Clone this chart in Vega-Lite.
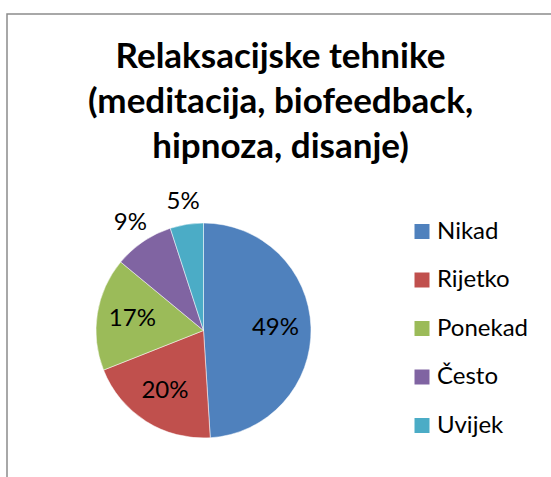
{
  "$schema": "https://vega.github.io/schema/vega-lite/v6.json",
  "autosize": {"type": "fit", "contains": "padding"},
  "width": 551,
  "height": 477,
  "padding": {"left": 7, "top": 11, "right": -3, "bottom": -3},
  "background": "white",
  "config": {
    "view": {"stroke": "#8c8c8c", "strokeWidth": 1.5},
    "font": "Lato"
  },
  "view": {"stroke": "#8c8c8c", "strokeWidth": 1.5},
  "title": {
    "text": ["Relaksacijske tehnike", "(meditacija, biofeedback,", "hipnoza, disanje)"],
    "font": "Lato",
    "fontSize": 35,
    "fontWeight": "bold",
    "color": "black",
    "lineHeight": 45,
    "anchor": "middle",
    "offset": -154
  },
  "data": {
    "values": [
      {"category": "Nikad", "share": 0.49, "rank": 1},
      {"category": "Rijetko", "share": 0.20, "rank": 2},
      {"category": "Ponekad", "share": 0.17, "rank": 3},
      {"category": "Često", "share": 0.09, "rank": 4},
      {"category": "Uvijek", "share": 0.05, "rank": 5}
    ]
  },
  "layer": [
    {
      "mark": {"type": "point", "opacity": 0},
      "encoding": {
        "x": {"field": "share", "type": "quantitative", "axis": null},
        "y": {"field": "rank", "type": "quantitative", "axis": null}
      }
    },
    {
      "mark": {"type": "arc", "x": 196.5, "y": 316.5, "outerRadius": 107.5, "stroke": "white", "strokeWidth": 0.5},
      "encoding": {
        "theta": {"field": "share", "type": "quantitative", "stack": true},
        "order": {"field": "rank", "type": "quantitative"},
        "color": {
          "field": "category",
          "type": "nominal",
          "scale": {
            "domain": ["Nikad", "Rijetko", "Ponekad", "Često", "Uvijek"],
            "range": ["#4F81BD", "#C0504D", "#9BBB59", "#8064A2", "#4BACC6"]
          },
          "legend": {
            "title": null,
            "orient": "none",
            "legendX": 403,
            "legendY": 205.5,
            "padding": 0,
            "symbolType": "square",
            "symbolSize": 225,
            "symbolStrokeWidth": 0,
            "labelFont": "Lato",
            "labelFontSize": 24,
            "labelColor": "black",
            "labelOffset": 3,
            "rowPadding": 24.5
          }
        }
      }
    },
    {
      "mark": {"type": "text", "x": 196.5, "y": 316.5, "radius": 72, "fontSize": 24, "font": "Lato", "color": "black"},
      "encoding": {
        "theta": {"field": "share", "type": "quantitative", "stack": true},
        "order": {"field": "rank", "type": "quantitative"},
        "text": {
          "condition": {"test": "datum.share >= 0.1", "field": "share", "type": "quantitative", "format": ".0%"},
          "value": ""
        }
      }
    },
    {
      "mark": {"type": "text", "x": 196.5, "y": 316.5, "radius": 130, "fontSize": 24, "font": "Lato", "color": "black"},
      "encoding": {
        "theta": {"field": "share", "type": "quantitative", "stack": true},
        "order": {"field": "rank", "type": "quantitative"},
        "text": {
          "condition": {"test": "datum.share < 0.1", "field": "share", "type": "quantitative", "format": ".0%"},
          "value": ""
        }
      }
    }
  ]
}
